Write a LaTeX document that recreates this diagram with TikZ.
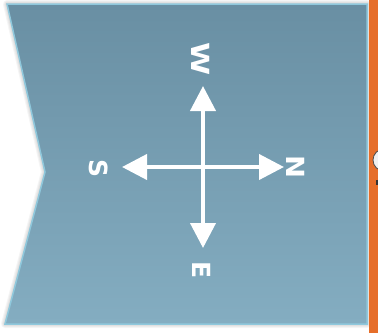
\documentclass[tikz,border=0pt]{standalone}
\usepackage{fontspec}
\usepackage{graphicx}
\newfontfamily\cf{DejaVu Sans}
\usetikzlibrary{arrows.meta}
\definecolor{topc}{HTML}{698FA3}
\definecolor{botc}{HTML}{84ADC1}
\definecolor{edgec}{HTML}{8FC8DC}
\definecolor{orangec}{HTML}{E66E2A}
\tikzset{
  lab/.style={text=white, font=\cf\fontsize{25}{25}\selectfont\bfseries, rotate=-90, inner sep=0pt},
  arr/.style={white, line width=4pt, {Triangle[width=25pt,length=25pt]}-{Triangle[width=25pt,length=25pt]}},
  shadowline/.style={black, opacity=0.04, line join=round}
}
\begin{document}
\begin{tikzpicture}[x=1pt,y=-1pt]
\useasboundingbox (0,0) rectangle (378,333);
\fill[white] (0,0) rectangle (378,333);
% soft shadow
\foreach \w in {2,4,6,8}{
  \draw[shadowline, line width=\w pt] (7,4) -- (367,4) -- (367,324) -- (5,324) -- (45,172) -- cycle;
}
% main panel
\draw[edgec, line width=1.5pt, top color=topc, bottom color=botc]
  (7,4) -- (367,4) -- (367,324) -- (5,324) -- (45,172) -- cycle;
% orange bar
\fill[orangec] (369,0) rectangle (378,333);
\draw[fill=gray!12, draw=gray!60!black, line width=0.8pt] (384,160) circle (11);
\fill[black!80] (375.5,180) rectangle (378,185);
% compass
\coordinate (top) at (203,86);
\coordinate (bot) at (203,248);
\coordinate (lft) at (122,167);
\coordinate (rgt) at (284,167);
\draw[arr] (bot) -- (top);
\draw[arr] (lft) -- (rgt);
\node[lab] (W) at (201,59) {\scalebox{1.2}[1]{W}};
\node[lab] (N) at (296,167) {\scalebox{1.1}[1]{N}};
\node[lab] (S) at (99,168) {S};
\node[lab] (E) at (202,270) {E};
\end{tikzpicture}
\end{document}
